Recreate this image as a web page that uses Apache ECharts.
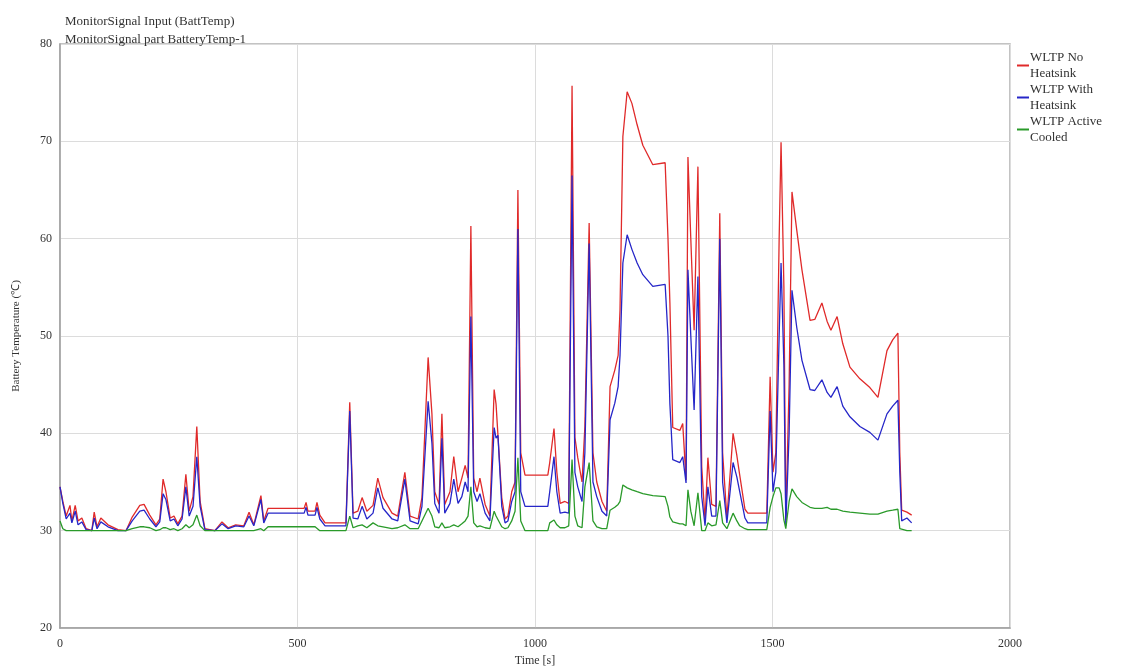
<!DOCTYPE html>
<html>
<head>
<meta charset="utf-8">
<script src="https://cdn.jsdelivr.net/npm/echarts@6/dist/echarts.min.js"></script>
<style>
  html, body { margin: 0; padding: 0; background: #fff; }
  #chart { width: 1129px; height: 668px; }
</style>
</head>
<body>
<div id="chart"></div>
<script>
// sample times [s]
var timeS = [
  0, 6, 13, 21, 25, 32, 38, 46, 55, 67, 72, 78, 86, 101, 122, 139, 152, 168, 177, 189,
  202, 210, 217, 223, 232, 240, 248, 257, 265, 272, 280, 288, 295, 305, 326, 341, 354, 370, 387, 398,
  408, 423, 429, 438, 514, 518, 522, 537, 541, 547, 558, 602, 610, 617, 627, 636, 646, 659, 669, 680,
  699, 711, 726, 737, 754, 762, 775, 783, 789, 798, 804, 810, 821, 829, 838, 846, 853, 859, 865, 871,
  878, 884, 895, 905, 914, 918, 922, 930, 937, 943, 951, 958, 964, 970, 979, 1027, 1031, 1040, 1046, 1053,
  1063, 1071, 1078, 1084, 1090, 1099, 1105, 1114, 1122, 1130, 1141, 1151, 1158, 1168, 1175, 1179, 1185, 1194, 1204, 1215,
  1227, 1248, 1274, 1280, 1284, 1290, 1305, 1311, 1318, 1322, 1328, 1335, 1343, 1351, 1358, 1364, 1372, 1381, 1389, 1395,
  1404, 1417, 1425, 1431, 1442, 1448, 1488, 1495, 1501, 1507, 1514, 1518, 1524, 1528, 1535, 1541, 1551, 1562, 1579, 1589,
  1604, 1615, 1623, 1636, 1648, 1663, 1684, 1705, 1722, 1741, 1753, 1764, 1768, 1772, 1783, 1793
];

var noHeatsink = [
  34.5, 33.0, 31.5, 32.6, 31.0, 32.6, 31.0, 31.3, 30.2, 30.0, 31.9, 30.4, 31.3, 30.6, 30.1, 30.0, 31.4, 32.6, 32.7, 31.6,
  30.6, 31.2, 35.3, 34.0, 31.3, 31.5, 30.7, 31.5, 35.8, 32.0, 33.5, 40.7, 33.0, 30.2, 30.0, 30.9, 30.3, 30.6, 30.5, 31.9,
  30.6, 33.6, 31.0, 32.3, 32.3, 32.9, 32.0, 32.0, 32.9, 31.6, 30.8, 30.8, 43.2, 31.8, 32.0, 33.4, 32.0, 32.6, 35.4, 33.4,
  31.8, 31.5, 36.0, 31.5, 31.2, 33.4, 47.8, 42.0, 34.0, 32.7, 42.0, 32.7, 34.0, 37.6, 34.0, 35.4, 36.7, 35.4, 61.3, 35.4,
  34.0, 35.4, 32.7, 31.5, 44.5, 43.0, 42.9, 33.4, 31.2, 31.5, 34.0, 35.0, 65.0, 38.0, 35.7, 35.7, 37.0, 40.5, 36.0, 32.8,
  33.0, 32.8, 75.7, 39.6, 37.5, 35.0, 40.7, 61.6, 38.0, 35.0, 33.0, 32.0, 44.8, 46.5, 48.0, 52.7, 70.5, 75.1, 73.9, 71.7,
  69.6, 67.6, 67.8, 60.0, 53.4, 40.6, 40.3, 41.0, 35.2, 68.4, 60.0, 50.6, 67.4, 36.6, 31.0, 37.5, 32.7, 32.5, 62.6, 38.0,
  31.3, 40.0, 37.7, 35.7, 32.2, 31.8, 31.8, 45.8, 36.0, 38.0, 60.0, 69.9, 55.0, 31.1, 45.0, 64.8, 60.9, 56.8, 51.6, 51.7,
  53.4, 51.5, 50.6, 52.0, 49.2, 46.8, 45.6, 44.7, 43.7, 48.5, 49.6, 50.3, 38.0, 32.1, 31.9, 31.6
];

var withHeatsink = [
  34.5, 32.8, 31.2, 31.8, 30.8, 32.0, 30.6, 30.9, 30.1, 30.0, 31.3, 30.2, 30.9, 30.4, 30.0, 30.0, 31.0, 32.0, 32.1, 31.2,
  30.4, 30.9, 33.8, 33.2, 31.0, 31.2, 30.5, 31.2, 34.5, 31.5, 32.5, 37.6, 32.5, 30.1, 30.0, 30.7, 30.2, 30.5, 30.4, 31.5,
  30.5, 33.2, 30.8, 31.8, 31.8, 32.4, 31.6, 31.6, 32.4, 31.2, 30.5, 30.5, 42.3, 31.3, 31.2, 32.5, 31.2, 31.8, 34.4, 32.3,
  31.2, 31.0, 35.3, 31.0, 30.7, 32.5, 43.3, 39.0, 32.8, 31.8, 39.5, 31.8, 32.8, 35.3, 32.8, 33.5, 35.0, 34.0, 52.0, 34.0,
  33.0, 33.8, 31.8, 31.0, 40.6, 39.5, 39.8, 32.5, 30.8, 31.0, 33.0, 34.0, 61.0, 34.0, 32.5, 32.5, 34.0, 37.6, 34.0, 31.8,
  31.9, 31.8, 66.5, 36.0, 34.5, 33.0, 38.0, 59.5, 35.0, 33.5, 32.0, 31.5, 41.4, 43.1, 44.8, 48.0, 57.5, 60.4, 58.9, 57.5,
  56.3, 55.1, 55.3, 50.0, 43.0, 37.3, 37.0, 37.6, 34.9, 56.8, 50.0, 42.4, 56.1, 33.5, 30.5, 34.5, 31.5, 31.5, 60.0, 35.0,
  30.8, 37.0, 35.5, 34.0, 31.3, 30.8, 30.8, 42.3, 34.0, 36.0, 50.0, 57.5, 47.0, 30.5, 40.0, 54.7, 50.9, 47.5, 44.5, 44.4,
  45.5, 44.2, 43.7, 44.8, 42.8, 41.7, 40.7, 40.1, 39.3, 42.0, 42.8, 43.4, 36.0, 31.0, 31.3, 30.8
];

var activeCooled = [
  31.0, 30.2, 30.0, 30.0, 30.0, 30.0, 30.0, 30.0, 30.0, 30.0, 30.0, 30.0, 30.0, 30.0, 30.0, 30.0, 30.2, 30.4, 30.4, 30.3,
  30.0, 30.1, 30.3, 30.3, 30.1, 30.2, 30.0, 30.2, 30.6, 30.3, 30.6, 31.6, 30.5, 30.0, 30.0, 30.0, 30.0, 30.0, 30.0, 30.0,
  30.0, 30.2, 30.0, 30.4, 30.4, 30.4, 30.4, 30.4, 30.4, 30.0, 30.0, 30.0, 31.5, 30.3, 30.5, 30.6, 30.3, 30.8, 30.5, 30.4,
  30.2, 30.3, 30.6, 30.2, 30.2, 31.0, 32.3, 31.5, 30.4, 30.3, 30.8, 30.3, 30.4, 30.6, 30.4, 30.7, 31.0, 31.5, 34.5, 30.8,
  30.4, 30.5, 30.3, 30.2, 32.0, 31.5, 31.5, 30.4, 30.2, 30.3, 31.0, 32.0, 37.5, 31.0, 30.0, 30.0, 30.8, 31.1, 30.6, 30.3,
  30.3, 30.5, 37.3, 31.5, 30.5, 30.3, 34.5, 37.0, 31.0, 30.4, 30.2, 30.2, 32.1, 32.4, 32.7, 33.0, 34.7, 34.4, 34.2, 34.0,
  33.8, 33.6, 33.5, 32.5, 31.4, 30.9, 30.7, 30.7, 30.5, 34.2, 32.0, 30.5, 33.9, 30.0, 30.0, 30.8, 30.5, 30.6, 33.1, 30.8,
  30.2, 31.8, 31.0, 30.5, 30.2, 30.1, 30.1, 32.4, 33.5, 34.4, 34.4, 33.8, 31.1, 30.2, 33.0, 34.3, 33.5, 32.9, 32.4, 32.3,
  32.3, 32.4, 32.2, 32.2, 32.0, 31.9, 31.8, 31.7, 31.7, 32.0, 32.1, 32.2, 30.2, 30.0, 30.0, 30.0
];

var seriesNames = ["WLTP No\nHeatsink", "WLTP With\nHeatsink", "WLTP Active\nCooled"];
var seriesColors = ["#e02a2a", "#2626c8", "#2a9a2a"];
var xTicks = { min: 0, max: 2000, interval: 500 };
var yTicks = { min: 20, max: 80, interval: 10 };

function pairs(vals) {
  return timeS.map(function (t, i) { return [t, vals[i]]; });
}

var font = "Liberation Serif";
var chart = echarts.init(document.getElementById("chart"));
var option = {
  animation: false,
  backgroundColor: "#fff",
  title: {
    text: "MonitorSignal Input (BattTemp)\nMonitorSignal part BatteryTemp-1",
    left: 60,
    top: 8,
    textStyle: { fontFamily: font, fontSize: 13, fontWeight: "normal", color: "#333", lineHeight: 18 }
  },
  legend: {
    orient: "vertical",
    left: 1012,
    top: 45,
    itemGap: 1,
    itemWidth: 12,
    itemHeight: 2,
    icon: "rect",
    data: seriesNames,
    textStyle: { fontFamily: font, fontSize: 13, color: "#333", lineHeight: 15.5, padding: [0, 0, 0, -4] }
  },
  grid: {
    left: 60, right: 119, top: 44, bottom: 40,
    outerBoundsMode: "none",
    show: true, borderColor: "#b0b0b0", borderWidth: 1.5
  },
  xAxis: {
    type: "value",
    min: xTicks.min, max: xTicks.max, interval: xTicks.interval,
    name: "Time [s]", nameLocation: "middle", nameGap: 26,
    nameTextStyle: { fontFamily: font, fontSize: 12, color: "#333" },
    axisLine: { lineStyle: { color: "#a0a0a0", width: 1.5 } },
    axisTick: { show: false },
    axisLabel: { fontFamily: font, fontSize: 12, color: "#333", margin: 10,
      formatter: function (v) { return String(v); } },
    splitLine: { lineStyle: { color: "#dcdcdc" } }
  },
  yAxis: {
    type: "value",
    min: yTicks.min, max: yTicks.max, interval: yTicks.interval,
    name: "Battery Temperature (\u2103)", nameLocation: "middle", nameGap: 38,
    nameTextStyle: { fontFamily: font, fontSize: 11, color: "#333" },
    axisLine: { show: true, lineStyle: { color: "#a0a0a0", width: 1.5 } },
    axisTick: { show: false },
    axisLabel: { fontFamily: font, fontSize: 12, color: "#333", margin: 8 },
    splitLine: { lineStyle: { color: "#dcdcdc" } }
  },
  series: [noHeatsink, withHeatsink, activeCooled].map(function (vals, i) {
    return {
      name: seriesNames[i],
      type: "line",
      data: pairs(vals),
      showSymbol: false,
      color: seriesColors[i],
      lineStyle: { width: 1.3, color: seriesColors[i] }
    };
  })
};
chart.setOption(option);
window.addEventListener("resize", function () { chart.resize(); });
</script>
</body>
</html>
